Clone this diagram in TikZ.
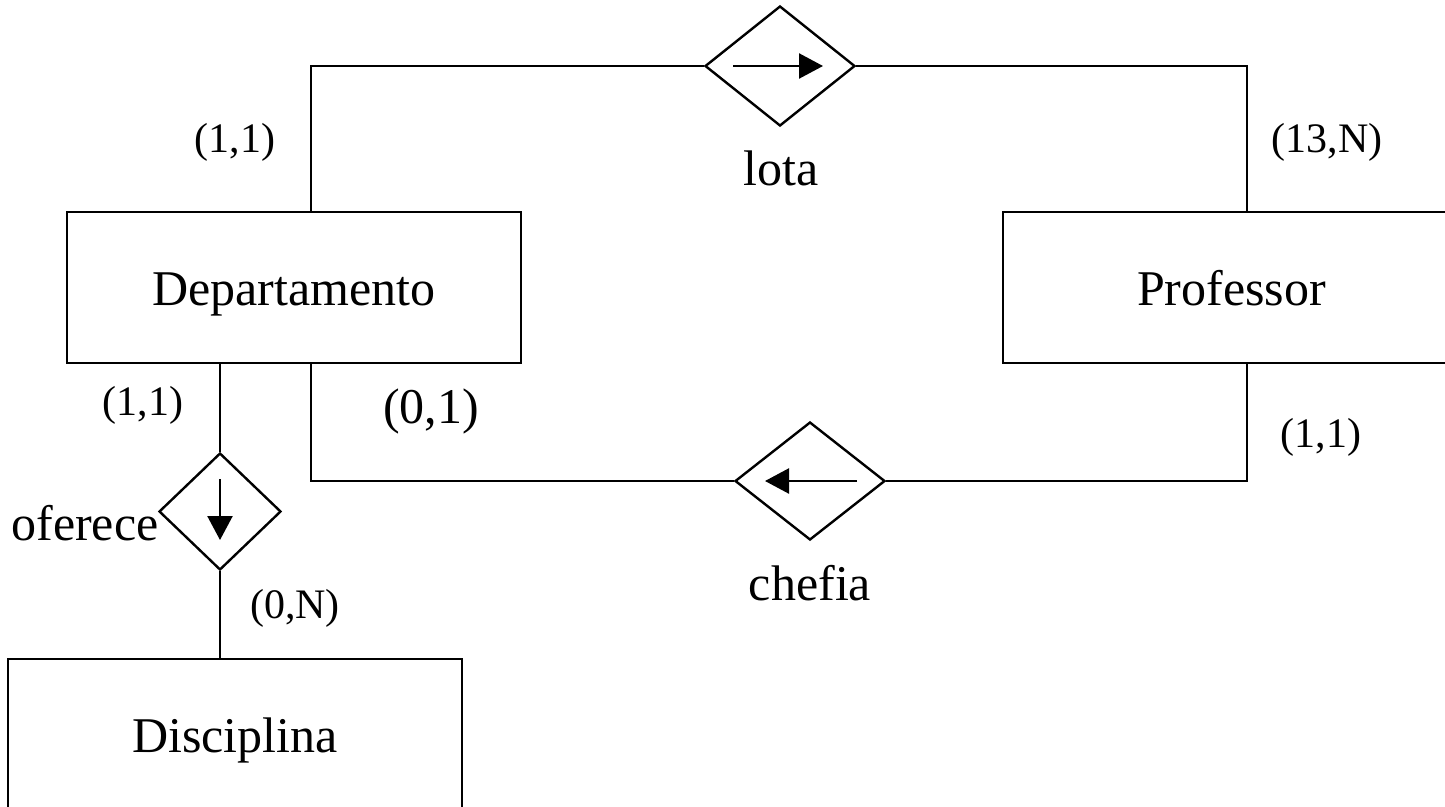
\documentclass[tikz,border=0pt]{standalone}
\usepackage{fontspec}
\setmainfont{Liberation Serif}
\usetikzlibrary{shapes.geometric,arrows.meta}
\tikzset{
  entity/.style={draw, line width=2.4pt, inner sep=0pt, minimum width=454pt, minimum height=151pt,
    text height=35pt, text depth=0pt, font=\fontsize{50}{60}\selectfont},
  rel/.style={draw, diamond, line width=2.4pt, inner sep=0pt},
  conn/.style={line width=2.4pt},
  inarrow/.style={line width=2.4pt, -{Triangle[length=24pt,width=25pt]}},
  bigtxt/.style={anchor=base, inner sep=0pt, font=\fontsize{50}{60}\selectfont},
  card/.style={anchor=base, inner sep=0pt, font=\fontsize{42}{50}\selectfont},
}
\begin{document}
\begin{tikzpicture}[x=1pt,y=-1pt]
\useasboundingbox (0,0) rectangle (1445,806);
\clip (0,0) rectangle (1445,806);
% entities
\node[entity] (dep) at (294,287.5) {Departamento};
\node[entity, minimum width=457pt] (prof) at (1231.5,287.5) {Professor};
\node[entity] (disc) at (235,734.5) {Disciplina};
% relationships
\node[rel, minimum width=150pt, minimum height=120pt] (lota) at (780,66) {};
\node[rel, minimum width=150pt, minimum height=118pt] (chefia) at (810,481) {};
\node[rel, minimum width=122pt, minimum height=117pt] (ofe) at (220,511.5) {};
% connectors
\draw[conn] (lota.west) -| ([xshift=17pt]dep.north);
\draw[conn] (lota.east) -| ([xshift=15.5pt]prof.north);
\draw[conn] (chefia.west) -| ([xshift=17pt]dep.south);
\draw[conn] (chefia.east) -| ([xshift=15.5pt]prof.south);
\draw[conn] (ofe.north) -- (ofe.north |- dep.south);
\draw[conn] (ofe.south) -- (ofe.south |- disc.north);
% arrows in diamonds
\draw[inarrow] ([xshift=-47pt]lota.center) -- ([xshift=43pt]lota.center);
\draw[inarrow] ([xshift=47pt]chefia.center) -- ([xshift=-45pt]chefia.center);
\draw[inarrow] ([yshift=32.5pt]ofe.center) -- ([yshift=-28.5pt]ofe.center);
% labels
\node[bigtxt] (llota) at (781,185) {lota};
\node[bigtxt] (lchefia) at (810,600) {chefia};
\node[bigtxt] (lofe) at (85,540) {oferece};
\node[bigtxt] (c01) at (431,423) {(0,1)};
\node[card] (c11a) at (235,152) {(1,1)};
\node[card] (c13n) at (1327,152) {(13,N)};
\node[card] (c11b) at (143,415) {(1,1)};
\node[card] (c11c) at (1321,447) {(1,1)};
\node[card] (c0n) at (295,618) {(0,N)};
\end{tikzpicture}
\end{document}
